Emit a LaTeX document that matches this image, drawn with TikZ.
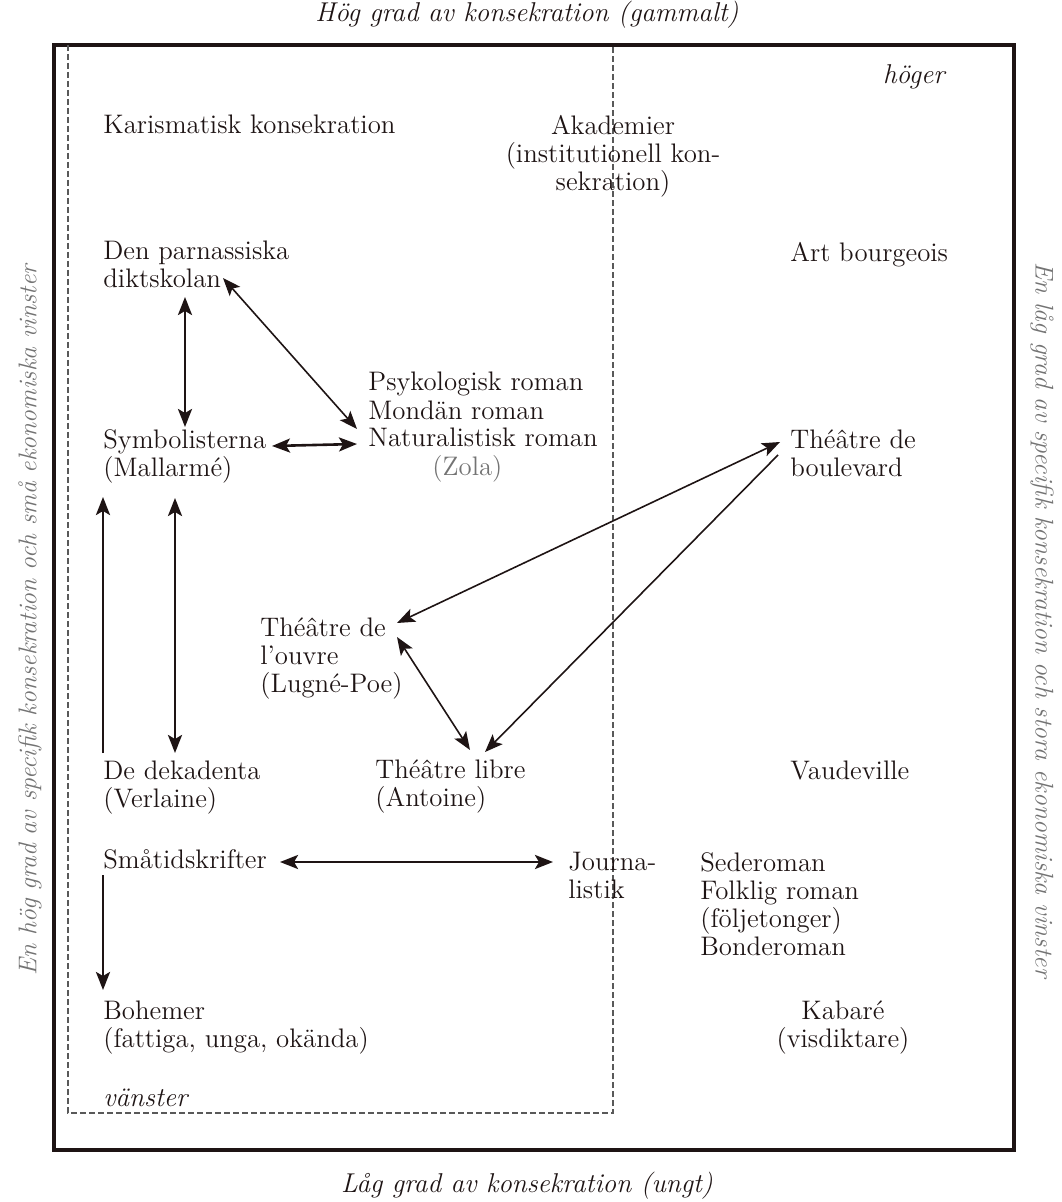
\documentclass[tikz,border=0pt]{standalone}
\usepackage{tikz}
\usetikzlibrary{arrows.meta}

\definecolor{ink}{RGB}{30,20,20}

\begin{document}
\begin{tikzpicture}[x=0.5pt,y=-0.5pt,
	txt/.style={inner sep=0pt,anchor=base west,align=left,text=ink,font=\fontsize{13.4}{14}\selectfont},
	ctxt/.style={txt,anchor=base,align=center},
	side/.style={inner sep=0pt,font=\itshape\fontsize{12.8}{14}\selectfont},
	title/.style={inner sep=0pt,text=ink,font=\itshape\fontsize{13.6}{14}\selectfont},
	tip/.style={-{Stealth[length=9pt,width=7pt,inset=2pt]}},
	both/.style={{Stealth[length=9pt,width=7pt,inset=2pt]}-{Stealth[length=9pt,width=7pt,inset=2pt]}},
	thick arrow/.style={draw=ink,line width=1.3pt},
	thin arrow/.style={draw=ink,line width=0.8pt}]
				\useasboundingbox (0,0) rectangle (1061,1202);
				
				\draw[ink,line width=1.6pt] (54,45) rectangle (1014,1150);
				\draw[black!65,line width=0.55pt,dash pattern=on 3pt off 1.5pt] (68,45) -- (68,1113) -- (613,1113) -- (613,45);
				
				\node[title] (top) at (527,15) {Hög grad av konsekration (gammalt)};
				\node[title] (bottom) at (527,1186) {Låg grad av konsekration (ungt)};
				\node[side,text=black!55,rotate=90] (leftside) at (30,620) {En hög grad av specifik konsekration och små ekonomiska vinster};
				\node[side,text=black!55,rotate=-90] (rightside) at (1042,620) {En låg grad av specifik konsekration och stora ekonomiska vinster};
				\node[title,anchor=base east] (hoger) at (945,84) {höger};
				\node[title,anchor=base west] (vanster) at (103,1106) {vänster};
				
				% base = last line
				\node[txt] (kar) at (103,134) {Karismatisk konsekration};
				\node[ctxt] (akad) at (613,191) {Akademier\\(institutionell kon-\\sekration)};
				\node[txt] (parn) at (103,288) {Den parnassiska\\diktskolan};
				\node[txt] (artb) at (790,262) {Art bourgeois};
				\node[txt] (roman) at (368,475) {Psykologisk roman\\Mondän roman\\Naturalistisk roman\\\hspace*{32pt}\textcolor{black!55}{(Zola)}};
				\node[txt] (symb) at (103,477) {Symbolisterna\\(Mallarmé)};
				\node[txt] (boul) at (790,477) {Théâtre de\\boulevard};
				\node[txt] (ouvre) at (260,692) {Théâtre de\\l'ouvre\\(Lugné-Poe)};
				\node[txt] (dek) at (103,807) {De dekadenta\\(Verlaine)};
				\node[txt] (libre) at (375,806) {Théâtre libre\\(Antoine)};
				\node[txt] (vaud) at (790,779) {Vaudeville};
				\node[txt] (smat) at (103,868) {Småtidskrifter};
				\node[txt] (journ) at (568,898) {Journa-\\listik};
				\node[txt] (sede) at (700,955) {Sederoman\\Folklig roman\\(följetonger)\\Bonderoman};
				\node[txt] (boh) at (103,1047) {Bohemer\\(fattiga, unga, okända)};
				\node[ctxt] (kab) at (843,1047) {Kabaré\\(visdiktare)};
				
				\draw[thick arrow,both] ([shift={(82,9)}]parn.base west) -- ([shift={(82,-50)}]symb.base west);
				\draw[thin arrow,both] ([shift={(120,-10)}]parn.base west) -- ([shift={(-11,-46)}]roman.base west);
				\draw[thick arrow,both] ([shift={(169,-31)}]symb.base west) -- ([shift={(-11,-31)}]roman.base west);
				\draw[thick arrow,tip] ([shift={(0,-54)}]dek.base west) -- ([shift={(0,20)}]symb.base west);
				\draw[thick arrow,both] ([shift={(72,21)}]symb.base west) -- ([shift={(72,-54)}]dek.base west);
				
				\draw[thin arrow,both] ([shift={(-10,-35)}]boul.base west) -- ([shift={(137,-69)}]ouvre.base west);
				\draw[thin arrow,tip] ([shift={(-12,-22)}]boul.base west) -- ([shift={(110,-54)}]libre.base west);
				\draw[thin arrow,both] ([shift={(137,-55)}]ouvre.base west) -- ([shift={(95,-56)}]libre.base west);
				
				\draw[thick arrow,both] ([shift={(177,-6)}]smat.base west) -- ([shift={(-15,-36)}]journ.base west);
				\draw[thick arrow,tip] ([shift={(0,7)}]smat.base west) -- ([shift={(0,-57)}]boh.base west);
			\end{tikzpicture}
\end{document}
